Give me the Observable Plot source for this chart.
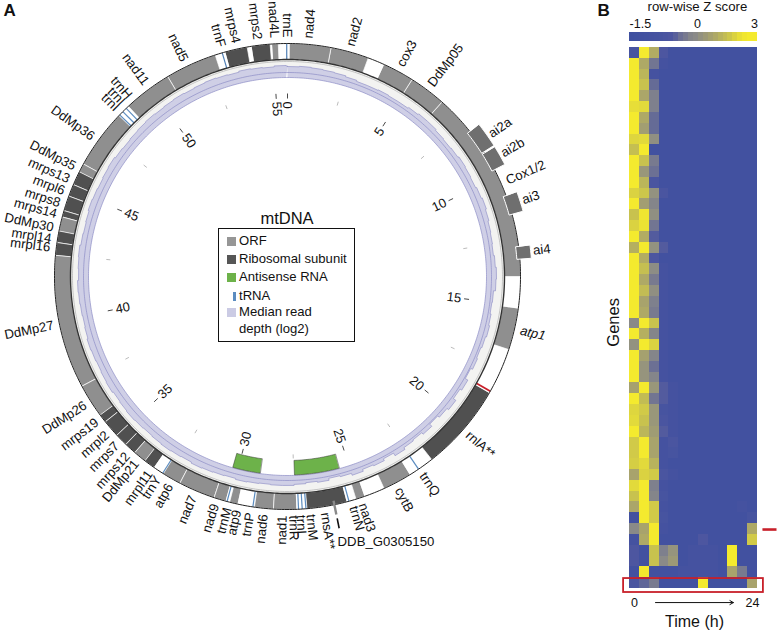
<!DOCTYPE html>
<html><head><meta charset="utf-8">
<script src="https://cdn.jsdelivr.net/npm/d3@7"></script>
<script src="https://cdn.jsdelivr.net/npm/@observablehq/plot@0.6"></script>
<style>
html,body{margin:0;padding:0;background:#fff}
#page{position:relative;width:777px;height:631px;display:flex;font-family:"Liberation Sans",Arial,sans-serif;color:#111;overflow:hidden}
#legendTitle{position:absolute;left:217px;width:140px;top:208px;text-align:center;font-size:16.5px;line-height:20px}
#legend{position:absolute;left:218px;top:228px;width:135px;height:112px;border:1.6px solid #111;font-size:13.1px;line-height:18px;padding:0;box-sizing:content-box}
#legend div{position:absolute;left:20px;white-space:nowrap}
#legend i{position:absolute;display:block}
</style></head><body>
<div id="page">
  <div id="left"></div><div id="right"></div>
  <div id="legendTitle">mtDNA</div>
  <div id="legend"></div>
</div>
<script>
const GENOME = 55.56;
// ---------- Panel A: genes (kb start / end) ----------
const orfNames  = ["nad4","nad2","cox3","DdMp05","Cox1/2","atp1","cytB","nad3","nad1","nad6","atp9","nad9","nad7","atp6","DdMp21","DdMp26","DdMp27","DdMp30","DdMp35","DdMp36","nad11","nad5","nad4L"];
const orfStart  = [0.08,1.68,3.78,5.00,6.42,15.11,22.89,24.80,27.44,28.33,29.69,30.16,30.63,32.04,33.60,36.04,37.35,43.41,45.79,46.14,48.92,50.80,54.97];
const orfEnd    = [1.68,3.13,5.00,6.42,13.89,16.71,24.00,25.14,28.33,29.04,30.00,30.63,32.04,32.75,34.11,37.35,42.49,43.97,46.14,48.41,50.80,52.77,55.21];
const riboNames = ["rnlA","rnsA","mrpl11","mrps12","mrps7","mrpl2","mrps19","mrpl16","mrpl14","mrps14","mrps8","mrpl6","mrps13","mrps4","mrps2"];
const riboStart = [18.52,25.51,33.18,34.11,34.57,35.06,35.73,42.49,42.98,43.97,44.22,44.80,45.27,53.17,54.19];
const riboEnd   = [21.88,27.04,33.60,34.57,35.06,35.73,36.04,42.98,43.41,44.22,44.80,45.27,45.79,54.02,54.90];
const trnaPos   = [55.53,53.05,48.45,48.62,48.80,22.50,25.42,27.08,27.22,27.36,29.10,30.10,32.78];
const antisenseStart = [25.46,29.01];
const antisenseEnd   = [27.47,30.25];
const intronNames = ["ai2a","ai2b","ai3","ai4"];
const intronStart = [7.96,8.95,10.77,12.76];
const intronEnd   = [8.89,9.68,11.50,13.23];
const intronLabel = [8.49,9.29,11.11,12.96];
const redMark = [18.44];
const smallGene = [25.99];
const majorTicks = [0,5,10,15,20,25,30,35,40,45,50,55];
const minorTicks = [2.5,7.5,12.5,17.5,22.5,27.5,32.5,37.5,42.5,47.5,52.5];
const labelsRightNames = ["nad4","nad2","cox3","DdMp05","Cox1/2","rnlA**","trnQ","cytB","nad3","trnN","rnsA**","trnM","trnL","trnR"];
const labelsRightKb    = [0.77,2.36,4.35,5.68,10.25,20.23,22.47,23.52,24.96,25.31,26.39,26.92,27.29,27.56];
const italicNames = ["atp1"];
const italicKb = [15.9];
const labelsLeftNames  = ["nad1","nad6","trnP","atp9","trnM","nad9","nad7","atp6","trnY","mrpl11","DdMp21","mrps12","mrps7","mrpl2","mrps19","DdMp26","DdMp27","mrpl16","mrpl14","DdMp30","mrps14","mrps8","mrpl6","mrps13","DdMp35","DdMp36","trnI","trnI","trnH","nad11","nad5","trnF","mrps4","mrps2","nad4L","trnE"];
const labelsLeftKb     = [27.97,28.67,29.17,29.66,30.02,30.5,31.36,32.33,32.84,33.21,33.83,34.26,34.8,35.33,35.93,36.68,39.86,42.75,43.07,43.49,44.01,44.43,44.9,45.37,45.88,47.16,48.54,48.85,49.18,49.97,51.62,53.09,53.65,54.45,55.08,55.55];
// median read depth, one value per 0.5 kb
const readDepth = [11,11.5,11,10.5,10,9,8,8,8.5,8, 8,9,10,10,9,8.5,9,10,9.5,9, 10,11,10,9,8.5,8,9,10,9.5,7.5, 7,8,9,8,7,8,6,9,7,10, 8,6,9,7,8,10,7,9,8,10, 8,7,9,8,9,10,
  10,9.5,10,10.5,9.5,10,10.5,11,10,10.5, 11,10.5,10,10.5,11,10.5,10,11,10.5,10, 10.5,11,10,9.5,10,10.5,11,10,10.5,11, 10,9.5,10,11,10.5,10,10.5,11,10,9.5, 10,10.5,11,10.5,11,11.5,11,11.5,12,11.5, 11,12,11.5,11,12,11.5];

// ---------- Panel B: heat map, rows by 13 time points ----------
const times = [0,2,4,6,8,10,12,14,16,18,20,22,24];
const B=-1.4;
const zRows = [
[-1.2,3,1.3,-1,B,B,B,B,B,B,B,B,B],
[3,1.2,-.4,-1.3,B,B,B,B,B,B,B,B,B],
[3,1.6,-1.3,B,B,B,B,B,B,B,B,B,B],
[3,2,-.6,B,B,B,B,B,B,B,B,B,B],
[3,1.1,-.2,B,B,B,B,B,B,B,B,B,B],
[2.7,2.6,-.2,B,B,B,B,B,B,B,B,B,B],
[3,1.2,-.6,B,B,B,B,B,B,B,B,B,B],
[3,.8,-.6,B,B,B,B,B,B,B,B,B,B],
[2.5,2.6,.2,B,B,B,B,B,B,B,B,B,B],
[1.9,3,B,B,B,B,B,B,B,B,B,B,B],
[3,2,-.3,B,B,B,B,B,B,B,B,B,B],
[3,.5,-.5,B,B,B,B,B,B,B,B,B,B],
[3,1.6,-1.1,B,B,B,B,B,B,B,B,B,B],
[2.4,2.1,.3,-1.1,B,B,B,B,B,B,B,B,B],
[3,.8,-.1,B,B,B,B,B,B,B,B,B,B],
[2,2.9,.2,B,B,B,B,B,B,B,B,B,B],
[2.4,2.8,-.4,B,B,B,B,B,B,B,B,B,B],
[3,1.3,-.9,B,B,B,B,B,B,B,B,B,B],
[1.4,3,.3,-.9,B,B,B,B,B,B,B,B,B],
[3,1.3,-1,B,B,B,B,B,B,B,B,B,B],
[3,1.9,.1,-1.3,B,B,B,B,B,B,B,B,B],
[3,1.2,-.3,-1.3,B,B,B,B,B,B,B,B,B],
[3,1.8,.2,-1.3,B,B,B,B,B,B,B,B,B],
[3,1,-.2,-1.3,B,B,B,B,B,B,B,B,B],
[3,1.2,-.3,-1.3,B,B,B,B,B,B,B,B,B],
[0,3,2,-1.3,B,B,B,B,B,B,B,B,B],
[3,1.4,-.1,-1.3,B,B,B,B,B,B,B,B,B],
[.3,3,2.4,-1.3,B,B,B,B,B,B,B,B,B],
[3,.9,-.1,-1.3,B,B,B,B,B,B,B,B,B],
[3,.4,-.5,-1.3,B,B,B,B,B,B,B,B,B],
[3,.4,-.1,-1.3,B,B,B,B,B,B,B,B,B],
[.9,3,.5,-.9,-1.3,B,B,B,B,B,B,B,B],
[3,1.8,-.4,-.9,-1.3,B,B,B,B,B,B,B,B],
[2.5,2.2,.5,-1.2,-1.3,B,B,B,B,B,B,B,B],
[2.6,2,.5,-1.1,-1.3,B,B,B,B,B,B,B,B],
[3,1.6,.7,-.9,-1.3,B,B,B,B,B,B,B,B],
[2.2,3,1,-1.3,-1.1,B,B,B,B,B,B,B,B],
[2.2,3,1,-1.3,-1.2,B,B,B,B,B,B,B,B],
[2.3,2.6,1.5,-1.3,B,B,B,B,B,B,B,B,B],
[1,2.4,2.2,-1.1,-1.3,B,B,B,B,B,B,B,B],
[2.6,3,-.2,-1.3,B,B,B,B,B,B,B,B,B],
[2,3,-.1,-1.2,B,B,B,B,B,B,B,B,B],
[1.1,3,2.2,-1.3,B,B,B,B,B,B,B,-1.3,B],
[B,3,2.2,-1.2,B,B,B,B,B,B,B,B,-1.2],
[0,1,3,-1.3,B,B,B,B,B,B,B,B,1.2],
[-1.3,1.2,3,B,B,B,B,-1,B,B,B,B,2.2],
[-1,B,2,-.2,.4,B,-1.3,-1.3,-1.3,B,3,B,B],
[-1,B,2,0,.6,B,-1.3,-1.3,-1.3,B,3,B,B],
[B,3,B,B,B,-1.3,-1.3,-1.3,-1.3,B,1,-.3,B],
[-1.1,-.7,-.3,B,B,B,B,3,B,B,B,B,1]
];
const barZ = [-1.5,-1.45,-1.4,-1.35,-1.3,-1.25,-1.2,-1.1,-1,-.8,-.5,-.3,-.1,0,.3,.6,.9,1.2,1.5,1.8,2.1,2.4,2.7,2.9,3,3];
const barTicks = ["-1.5","0","3"];
const zStops = [-1.5,-1,0,1,2,3];
const zColors = ["#3f50a0","#4d56a0","#8a8a88","#a8a36c","#c8c24e","#f4ea2e"];

// ---------- legend ----------
const legendItems = ["ORF","Ribosomal subunit","Antisense RNA","tRNA","Median read","depth (log2)"];
const legendColors = ["#969696","#565656","#6db24a","#5b8cc0","#cbcbe4",null];

// ---------- geometry of the ring ----------
const W=600,H=631,cx=287,cy=276;
const FONT='"Liberation Sans",Arial,sans-serif';
const ang=k=>k/GENOME*2*Math.PI;
const px=(k,r)=>r*Math.sin(ang(k));
const py=(k,r)=>-r*Math.cos(ang(k));
const deg=k=>k/GENOME*360;
function wedge(id,k0,k1,r0,r1){
  const n=Math.max(2,Math.ceil((k1-k0)/0.1)),o=[];
  for(let i=0;i<=n;i++){const k=k0+(k1-k0)*i/n;o.push({id,x:px(k,r1),y:py(k,r1)});}
  for(let i=n;i>=0;i--){const k=k0+(k1-k0)*i/n;o.push({id,x:px(k,r0),y:py(k,r0)});}
  return o;
}
const wedges=(st,en,r0,r1)=>st.flatMap((s,i)=>wedge(i,s,en[i],r0,r1));
const circle=r=>d3.range(0,GENOME,0.1).map(k=>({x:px(k,r),y:py(k,r)}));
const poly=(pts,fill,extra={})=>Plot.line(pts,{x:"x",y:"y",z:"id",fill,curve:"linear-closed",stroke:"none",...extra});
const ring=(r,stroke,strokeWidth)=>Plot.line(circle(r),{x:"x",y:"y",stroke,strokeWidth,curve:"linear-closed"});
const R0=217,R1=233,LR=239;
const radial=(data,r0,r1,stroke,strokeWidth)=>Plot.link(data,{x1:d=>px(d,r0),y1:d=>py(d,r0),x2:d=>px(d,r1),y2:d=>py(d,r1),stroke,strokeWidth});

// read-depth polygon: a stepped outer edge and the circular inner edge
const RD=199;
const depthPts=[];
readDepth.forEach((v,i)=>{const a=i*.5,b=Math.min((i+1)*.5,GENOME);
  depthPts.push({x:px(a,RD+v),y:py(a,RD+v)},{x:px(b,RD+v),y:py(b,RD+v)});});
const depthClosed=[...depthPts,...circle(RD).reverse(),{x:px(0,RD),y:py(0,RD)}];

const kbText=(names,kbs,r,anchor,rot,extra={})=>Plot.text(names.map((n,i)=>({n,k:kbs[i]})),{
  x:d=>px(d.k,r),y:d=>py(d.k,r),text:"n",rotate:d=>rot(deg(d.k)),textAnchor:anchor,lineAnchor:"middle",fontSize:13.2,fill:"#111",...extra});

const left=Plot.plot({
  width:W,height:H,margin:0,
  x:{domain:[-cx,W-cx],range:[0,W],axis:null},
  y:{domain:[-cy,H-cy],range:[0,H],axis:null},
  style:{fontFamily:FONT,display:"block",background:"white",overflow:"visible"},
  marks:[
    poly(wedge(0,0,GENOME,205,R0),"#f3f3f1"),
    poly(depthClosed.map(d=>({...d,id:0})),"#cfcfe6"),
    ring(RD,"#8d8dc6",.7),
    ring(204,"#8d8dc6",.7),
    Plot.line(depthPts.concat(depthPts[0]),{x:"x",y:"y",stroke:"#9393c9",strokeWidth:.7}),
    ring(215,"#b0b0b0",.7),
    // outer ring
    poly(wedge(0,0,GENOME,R0,R1),"white"),
    poly(wedges(orfStart,orfEnd,R0,R1),"#8f8f8f",{stroke:"white",strokeWidth:.7}),
    poly(wedges(riboStart,riboEnd,R0,R1),"#505050",{stroke:"white",strokeWidth:.7}),
    radial(trnaPos.slice(2,5),R0,R1,"#5b8cc0",1.2),
    radial(trnaPos.slice(0,2),R0,R1,"#4f7fb5",1.2),
    radial(trnaPos.slice(5),R0,R1,"#5b8cc0",1.2),
    radial(redMark,R0,R1,"#c8202a",1.8),
    ring(R1,"#222",1),
    ring(R0,"#333",1.4),
    // introns outside the ring
    poly(wedges(intronStart,intronEnd,230,244.5),"#6f6f6f",{stroke:"white",strokeWidth:1}),
    kbText(intronNames,intronLabel,247,"start",a=>a-90),
    // antisense
    poly(wedges(antisenseStart,antisenseEnd,184,198.5),"#6db24a",{stroke:"#333",strokeWidth:.5}),
    // small gene
    radial(smallGene,229,243,"#8a8a8a",2.4),
    radial(smallGene,247,257,"#111",1.6),
    Plot.text(["DDB_G0305150"],{x:px(smallGene[0]+.14,270),y:py(smallGene[0]+.14,270),textAnchor:"start",fontSize:13.2,fill:"#111"}),
    // scale ticks
    radial(majorTicks,178,183,"#333",.9),
    radial(minorTicks,178,182,"#aaa",.8),
    kbText(majorTicks.filter(k=>k<=25).map(String),majorTicks.filter(k=>k<=25),175,"end",a=>a-90,{fontSize:13}),
    kbText(majorTicks.filter(k=>k>25).map(String),majorTicks.filter(k=>k>25),175,"start",a=>a+90,{fontSize:13}),
    // gene labels
    kbText(labelsRightNames,labelsRightKb,LR,"start",a=>a-90),
    kbText(italicNames,italicKb,LR,"start",a=>a-90,{fontStyle:"italic"}),
    kbText(labelsLeftNames,labelsLeftKb,LR,"end",a=>a+90),
    Plot.text(["A"],{frameAnchor:"top-left",dx:3,dy:3,lineAnchor:"top",fontSize:17,fontWeight:"bold",fill:"#111"})
  ]
});
document.getElementById("left").append(left);

// ---------- Panel B ----------
const cells=zRows.flatMap((row,i)=>row.map((z,j)=>({t:times[j],g:i,z})));
const barCells=barZ.map((z,i)=>({t:i-1,z}));
const right=Plot.plot({
  width:177,height:H,margin:0,
  x:{domain:[-1,25],range:[29,157],axis:null},
  y:{domain:[0,50],range:[47,588],axis:null},
  color:{type:"linear",domain:zStops,range:zColors,interpolate:"rgb",clamp:true},
  style:{fontFamily:FONT,display:"block",background:"white",overflow:"visible"},
  marks:[
    Plot.rect(cells,{x1:d=>d.t-1,x2:d=>d.t+1,y1:"g",y2:d=>d.g+1,fill:"z",shapeRendering:"crispEdges"}),
    Plot.rect(barCells,{x1:"t",x2:d=>d.t+1,y1:-1.39,y2:-.55,fill:"z",shapeRendering:"crispEdges"}),
    Plot.text(["row-wise Z score"],{x:12.8,y:-3.72,fontSize:13.2,fill:"#111"}),
    Plot.text(barTicks,{x:[1.2,12.8,24.4],y:[-2.2,-2.2,-2.2],fontSize:12.5,fill:"#111"}),
    Plot.text(["Genes"],{x:-4.25,y:25.4,rotate:-90,fontSize:16.5,fill:"#111"}),
    Plot.text(["0","24"],{x:[times[0],times[12]],y:[51.3,51.3],fontSize:12.5,fill:"#111"}),
    Plot.arrow([0],{x1:4.28,x2:20.1,y1:51.3,y2:51.3,bend:0,headLength:6,strokeWidth:1,stroke:"#111"}),
    Plot.text(["Time (h)"],{x:12.2,y:53.05,fontSize:16,fill:"#111"}),
    Plot.rect([0],{x1:-2.2,x2:26.2,y1:49.08,y2:50.37,fill:"none",stroke:"#c8202a",strokeWidth:1.8}),
    Plot.link([0],{x1:26,x2:28.86,y1:44.55,y2:44.55,stroke:"#c8202a",strokeWidth:2.6}),
    Plot.text(["B"],{frameAnchor:"top-left",dx:-3+0,dy:3,lineAnchor:"top",fontSize:17,fontWeight:"bold",fill:"#111"})
  ]
});
document.getElementById("right").append(right);

// ---------- legend box ----------
const lg=document.getElementById("legend");
const rowsY=[3,21,39,58,74,91];
legendItems.forEach((t,i)=>{
  const d=document.createElement("div");d.textContent=t;d.style.top=rowsY[i]+"px";lg.append(d);
  if(legendColors[i]){
    const s=document.createElement("i");s.style.background=legendColors[i];
    const thin=t==="tRNA";
    s.style.left=(thin?14:8)+"px";s.style.width=(thin?3:9)+"px";s.style.height="9px";s.style.top=(rowsY[i]+5)+"px";lg.append(s);
  }
});
</script>
</body></html>
